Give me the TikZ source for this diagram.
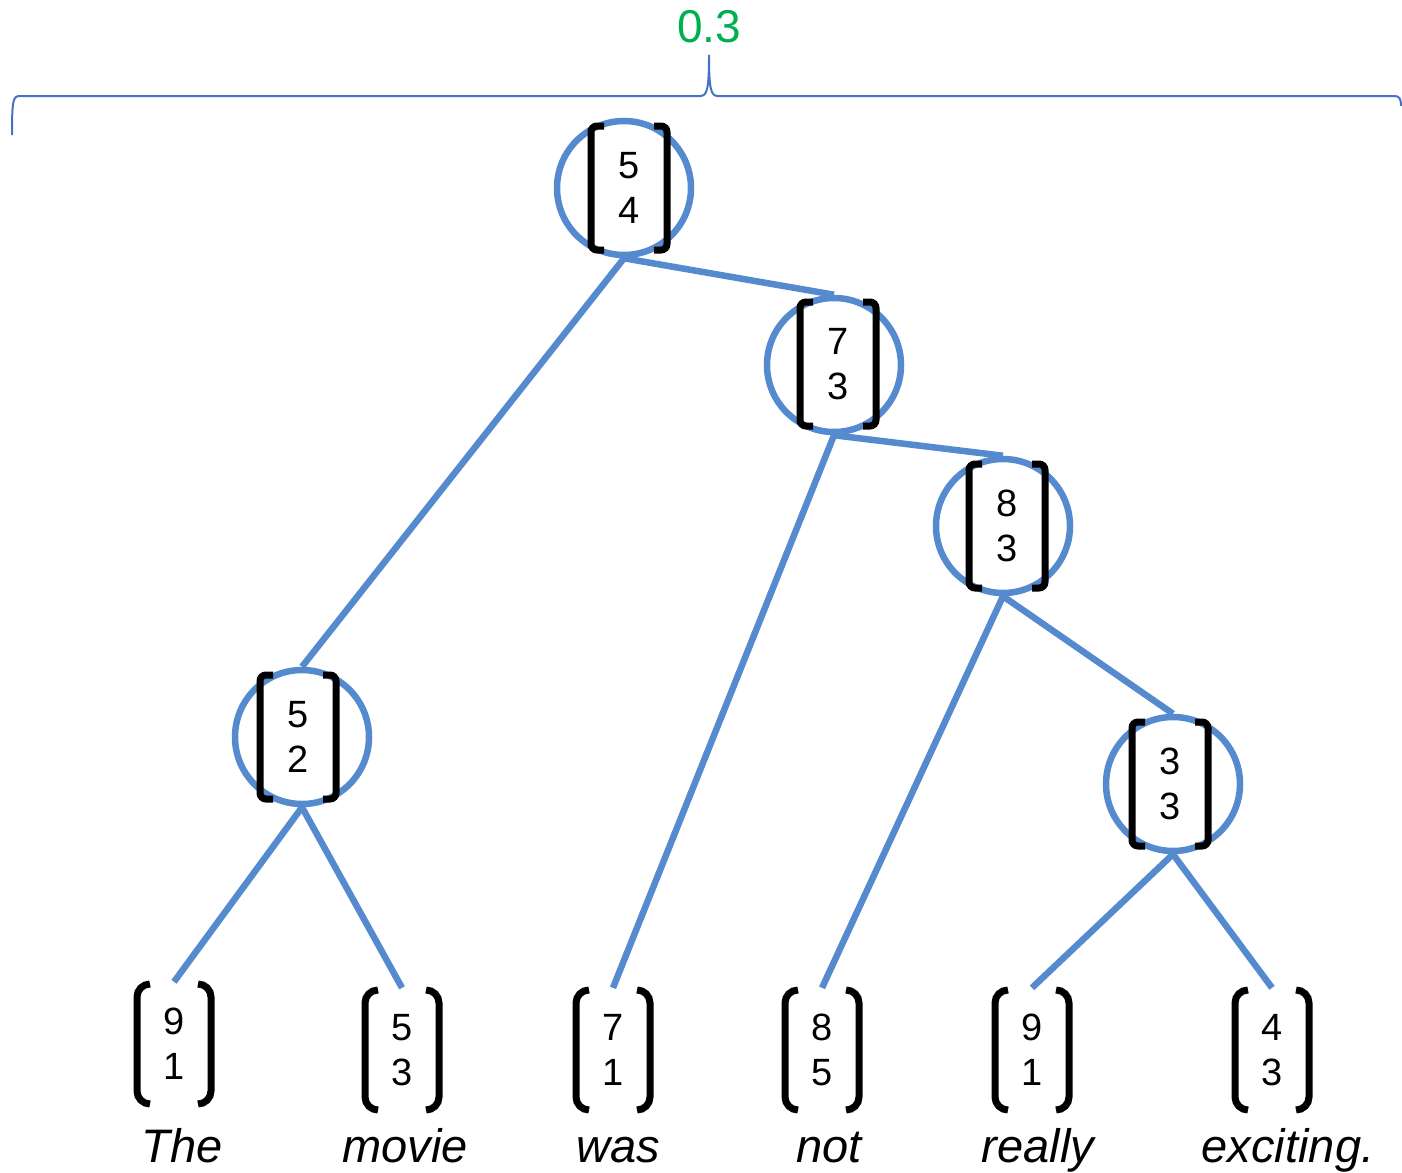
\documentclass[tikz,border=0pt]{standalone}
\usepackage{fontspec}
\setmainfont{Liberation Sans}
\definecolor{nodeblue}{RGB}{85,138,206}
\definecolor{braceblue}{RGB}{68,114,196}
\definecolor{scoregreen}{RGB}{0,176,80}
\newcommand\vbrackets[5]{% node, halfwidth, halfheight, stub, corner radius
  \draw[line width=7pt, black, rounded corners=#5]
    ([shift={(-#2+#4,-#3)}]#1.center) -- ([shift={(-#2,-#3)}]#1.center)
    -- ([shift={(-#2,#3)}]#1.center) -- ([shift={(-#2+#4,#3)}]#1.center);
  \draw[line width=7pt, black, rounded corners=#5]
    ([shift={(#2-#4,-#3)}]#1.center) -- ([shift={(#2,-#3)}]#1.center)
    -- ([shift={(#2,#3)}]#1.center) -- ([shift={(#2-#4,#3)}]#1.center);
}
\begin{document}
\begin{tikzpicture}[x=1pt,y=-1pt,
  circ/.style={circle, draw=nodeblue, line width=6.5pt, minimum size=134pt, inner sep=0pt},
  link/.style={draw=nodeblue, line width=6.5pt},
  vec/.style={minimum width=74pt, minimum height=124pt, inner sep=0pt, align=center,
    font=\fontsize{38}{45}\selectfont},
  word/.style={anchor=base, font=\fontsize{47}{50}\selectfont\itshape, inner sep=0pt}
]
\useasboundingbox (0,0) rectangle (1402,1172);

% brace and score
\coordinate (tip) at (709,55);
\draw[braceblue, line width=2pt]
  (12,135) .. controls (12,100) and (13,96) .. (20,96) -- (700,96)
  .. controls (707,96) and (709,90) .. (tip)
  .. controls (709,90) and (711,96) .. (718,96) -- (1394,96)
  .. controls (1399,96) and (1401,98) .. (1401,106);
\node[text=scoregreen, font=\fontsize{46}{50}\selectfont, inner sep=0pt] (score) at (709,27) {0.3};

% internal circles
\node[circ] (r)   at (624,188) {};
\node[circ] (n73) at (834,365) {};
\node[circ] (n83) at (1003,526) {};
\node[circ] (n52) at (302,737) {};
\node[circ] (n33) at (1173,784) {};

% leaves
\node[vec] (lthe)  at (174,1044) {9\\1};
\node[vec] (lmov)  at (402,1050) {5\\3};
\node[vec] (lwas)  at (613,1050) {7\\1};
\node[vec] (lnot)  at (822,1050) {8\\5};
\node[vec] (lrea)  at (1032,1050) {9\\1};
\node[vec] (lexc)  at (1272,1050) {4\\3};

% edges
\draw[link] (r.south) -- (n52.north);
\draw[link] (r.south) -- (n73.north);
\draw[link] (n73.south) -- (lwas.north);
\draw[link] (n73.south) -- (n83.north);
\draw[link] (n83.south) -- (lnot.north);
\draw[link] (n83.south) -- (n33.north);
\draw[link] (n52.south) -- (lthe.north);
\draw[link] (n52.south) -- (lmov.north);
\draw[link] (n33.south) -- (lrea.north);
\draw[link] (n33.south) -- (lexc.north);

% internal vectors
\node[vec] (vr)  at (629,188) {5\\4};
\node[vec] (v73) at (838,364) {7\\3};
\node[vec] (v83) at (1007,526) {8\\3};
\node[vec] (v52) at (298,737) {5\\2};
\node[vec] (v33) at (1170,784) {3\\3};
\foreach \n in {vr,v73,v83,v52,v33}{\vbrackets{\n}{38}{62}{13}{6pt}}
\foreach \n in {lthe,lmov,lwas,lnot,lrea,lexc}{\vbrackets{\n}{37}{60}{13}{13pt}}

% words
\node[word] (w1) at (182,1162) {The};
\node[word] (w2) at (405,1162) {movie};
\node[word] (w3) at (618,1162) {was};
\node[word] (w4) at (829,1162) {not};
\node[word] (w5) at (1038,1162) {really};
\node[word] (w6) at (1288,1162) {exciting.};
\end{tikzpicture}
\end{document}
